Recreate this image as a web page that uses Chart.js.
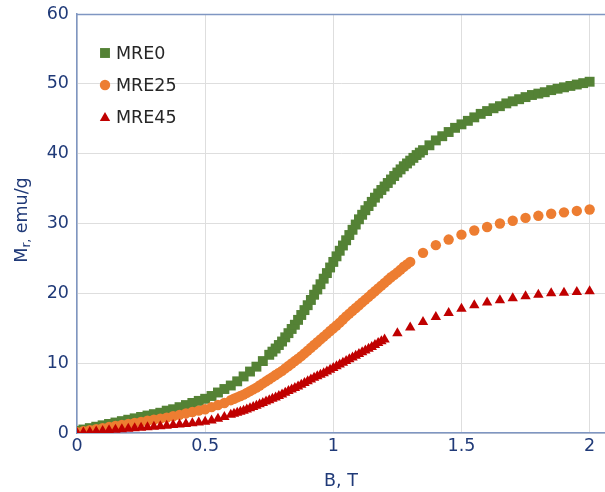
<!DOCTYPE html>
<html>
<head>
<meta charset="utf-8">
<script src="https://cdn.jsdelivr.net/npm/chart.js@4/dist/chart.umd.min.js"></script>
<style>
  html, body { margin: 0; padding: 0; background: #ffffff; overflow: hidden; }
  #wrap { width: 605px; height: 492px; position: relative; }
</style>
</head>
<body>
<div id="wrap"><canvas id="c" width="605" height="492"></canvas></div>
<script>
// ---- Data ----
const SERIES_NAMES = ['MRE0', 'MRE25', 'MRE45'];

const B_MRE0 = [0.000,0.025,0.050,0.075,0.100,0.125,0.150,0.175,0.200,0.225,0.250,0.275,0.300,0.325,0.350,0.375,0.400,0.425,0.450,0.475,
  0.500,0.525,0.550,0.575,0.600,0.625,0.650,0.675,0.700,0.725,
  0.750,0.7625,0.775,0.7875,0.800,0.8125,0.825,0.8375,0.850,0.8625,0.875,0.8875,0.900,0.9125,0.925,0.9375,0.950,0.9625,0.975,0.9875,
  1.000,1.0125,1.025,1.0375,1.050,1.0625,1.075,1.0875,1.100,1.1125,1.125,1.1375,1.150,1.1625,1.175,1.1875,1.200,1.2125,1.225,1.2375,
  1.250,1.2625,1.275,1.2875,1.300,1.3125,1.325,1.3375,1.350,
  1.375,1.400,1.425,1.450,1.475,1.500,1.525,1.550,1.575,1.600,1.625,1.650,1.675,1.700,1.725,1.750,1.775,1.800,1.825,1.850,1.875,1.900,1.925,1.950,1.975,2.000];
const M_MRE0 = [0.3,0.5,0.7,0.9,1.1,1.3,1.5,1.7,1.9,2.1,2.3,2.5,2.7,2.9,3.2,3.4,3.7,4.0,4.3,4.6,
  4.9,5.3,5.8,6.3,6.8,7.4,8.1,8.8,9.5,10.3,
  11.2,11.65,12.1,12.6,13.1,13.7,14.3,14.9,15.5,16.2,16.9,17.6,18.3,19.05,19.8,20.55,21.3,22.1,22.9,23.7,
  24.5,25.3,26.1,26.85,27.6,28.35,29.1,29.85,30.6,31.25,31.9,32.5,33.1,33.7,34.3,34.8,35.3,35.8,36.3,36.8,
  37.3,37.75,38.2,38.6,39.0,39.4,39.8,40.15,40.5,
  41.2,41.9,42.5,43.1,43.7,44.2,44.7,45.2,45.7,46.1,46.5,46.8,47.2,47.5,47.8,48.1,48.4,48.6,48.8,49.1,49.3,49.5,49.7,49.9,50.1,50.3];

const B_MRE25 = [0.000,0.025,0.050,0.075,0.100,0.125,0.150,0.175,0.200,0.225,0.250,0.275,0.300,0.325,0.350,0.375,0.400,0.425,0.450,0.475,
  0.500,0.525,0.550,0.575,
  0.600,0.6125,0.625,0.6375,0.650,0.6625,0.675,0.6875,0.700,0.7125,0.725,0.7375,0.750,0.7625,0.775,0.7875,
  0.800,0.8125,0.825,0.8375,0.850,0.8625,0.875,0.8875,0.900,0.9125,0.925,0.9375,0.950,0.9625,0.975,0.9875,
  1.000,1.0125,1.025,1.0375,1.050,1.0625,1.075,1.0875,1.100,1.1125,1.125,1.1375,1.150,1.1625,1.175,1.1875,
  1.200,1.2125,1.225,1.2375,1.250,1.2625,1.275,1.2875,1.300,
  1.35,1.40,1.45,1.50,1.55,1.60,1.65,1.70,1.75,1.80,1.85,1.90,1.95,2.00];
const M_MRE25 = [0.1,0.25,0.4,0.55,0.7,0.85,1.0,1.15,1.3,1.45,1.6,1.75,1.9,2.05,2.2,2.4,2.6,2.8,3.0,3.2,
  3.4,3.7,4.0,4.3,
  4.7,4.9,5.1,5.3,5.5,5.75,6.0,6.25,6.5,6.8,7.1,7.4,7.7,8.0,8.3,8.6,
  8.9,9.25,9.6,9.95,10.3,10.65,11.0,11.4,11.8,12.2,12.6,13.0,13.4,13.8,14.2,14.6,
  15.0,15.4,15.8,16.25,16.7,17.1,17.5,17.9,18.3,18.7,19.1,19.5,19.9,20.3,20.7,21.1,
  21.5,21.9,22.3,22.65,23.0,23.4,23.8,24.15,24.5,
  25.8,26.9,27.7,28.4,29.0,29.5,30.0,30.4,30.8,31.1,31.4,31.6,31.8,32.0];

const B_MRE45 = [0.000,0.025,0.050,0.075,0.100,0.125,0.150,0.175,0.200,0.225,0.250,0.275,0.300,0.325,0.350,0.375,0.400,0.425,0.450,0.475,
  0.500,0.525,0.550,0.575,
  0.600,0.6125,0.625,0.6375,0.650,0.6625,0.675,0.6875,0.700,0.7125,0.725,0.7375,0.750,0.7625,0.775,0.7875,
  0.800,0.8125,0.825,0.8375,0.850,0.8625,0.875,0.8875,0.900,0.9125,0.925,0.9375,0.950,0.9625,0.975,0.9875,
  1.000,1.0125,1.025,1.0375,1.050,1.0625,1.075,1.0875,1.100,1.1125,1.125,1.1375,1.150,1.1625,1.175,1.1875,1.200,
  1.25,1.30,1.35,1.40,1.45,1.50,1.55,1.60,1.65,1.70,1.75,1.80,1.85,1.90,1.95,2.00];
const M_MRE45 = [0.0,0.08,0.15,0.23,0.3,0.38,0.45,0.53,0.6,0.68,0.75,0.83,0.9,0.98,1.05,1.13,1.2,1.3,1.4,1.5,
  1.6,1.8,2.05,2.3,
  2.6,2.75,2.9,3.05,3.2,3.37,3.55,3.72,3.9,4.1,4.3,4.5,4.7,4.9,5.1,5.3,
  5.5,5.75,6.0,6.22,6.45,6.67,6.9,7.15,7.4,7.65,7.9,8.12,8.35,8.57,8.8,9.05,
  9.3,9.55,9.8,10.05,10.3,10.55,10.8,11.05,11.3,11.55,11.8,12.05,12.3,12.6,12.9,13.15,13.4,
  14.3,15.1,15.9,16.6,17.2,17.8,18.3,18.7,19.0,19.3,19.6,19.8,20.0,20.1,20.2,20.3];

const X_TICKS = [0, 0.5, 1, 1.5, 2];
const Y_TICKS = [0, 10, 20, 30, 40, 50, 60];
const X_TITLE = 'B, T';
const Y_TITLE_MAIN = 'M';
const Y_TITLE_SUB = 'r,';
const Y_TITLE_REST = ' emu/g';

// ---- Styling ----
const FONT = '"DejaVu Sans", Verdana, sans-serif';
const NAVY = '#203a78';
const AXIS = '#7f96c2';
const GRID = '#dedede';
const COLORS = ['#548235', '#ED7D31', '#C00000'];
const STYLES = ['rect', 'circle', 'triangle'];
const RADII = [7, 5.2, 6];

function pts(xs, ys) { return xs.map((x, i) => ({ x: x, y: ys[i] })); }

const seriesData = [pts(B_MRE0, M_MRE0), pts(B_MRE25, M_MRE25), pts(B_MRE45, M_MRE45)];

const datasets = SERIES_NAMES.map((name, i) => ({
  label: name,
  data: seriesData[i],
  showLine: false,
  pointStyle: STYLES[i],
  pointRadius: RADII[i],
  pointHoverRadius: RADII[i],
  pointBackgroundColor: COLORS[i],
  pointBorderColor: COLORS[i],
  pointBorderWidth: 0,
  backgroundColor: COLORS[i],
  borderColor: COLORS[i],
  order: 2 - i
}));

function drawMarker(ctx, style, x, y, r, color) {
  ctx.save();
  ctx.fillStyle = color;
  ctx.beginPath();
  if (style === 'rect') {
    const s = r * Math.SQRT1_2;
    ctx.rect(x - s, y - s, 2 * s, 2 * s);
  } else if (style === 'circle') {
    ctx.arc(x, y, r, 0, Math.PI * 2);
  } else {
    ctx.moveTo(x, y - r);
    ctx.lineTo(x + r * Math.sin(2 * Math.PI / 3), y - r * Math.cos(2 * Math.PI / 3));
    ctx.lineTo(x + r * Math.sin(4 * Math.PI / 3), y - r * Math.cos(4 * Math.PI / 3));
    ctx.closePath();
  }
  ctx.fill();
  ctx.restore();
}

const decorPlugin = {
  id: 'decor',
  afterDraw(chart) {
    const ctx = chart.ctx;
    const a = chart.chartArea;
    ctx.save();
    ctx.strokeStyle = AXIS;
    ctx.lineWidth = 1.5;
    ctx.beginPath();
    ctx.moveTo(a.left, a.top + 0.5);
    ctx.lineTo(a.right, a.top + 0.5);
    ctx.stroke();

    const lx = 105, ly = [53, 85, 117], tx = 116;
    ctx.font = '17.5px ' + FONT;
    ctx.textBaseline = 'middle';
    ctx.textAlign = 'left';
    SERIES_NAMES.forEach((name, i) => {
      drawMarker(ctx, STYLES[i], lx, ly[i] + (STYLES[i] === 'triangle' ? 1 : 0), RADII[i], COLORS[i]);
      ctx.fillStyle = '#262626';
      ctx.fillText(name, tx, ly[i] + 1);
    });

    ctx.fillStyle = NAVY;
    ctx.font = '17.5px ' + FONT;
    ctx.textAlign = 'center';
    ctx.textBaseline = 'middle';
    ctx.fillText(X_TITLE, 341, 481);

    ctx.translate(21, 220);
    ctx.rotate(-Math.PI / 2);
    const bigFont = '17.5px ' + FONT;
    const smallFont = '12px ' + FONT;
    ctx.font = bigFont;
    const w1 = ctx.measureText(Y_TITLE_MAIN).width;
    const w3 = ctx.measureText(Y_TITLE_REST).width;
    ctx.font = smallFont;
    const w2 = ctx.measureText(Y_TITLE_SUB).width;
    const total = w1 + w2 + w3;
    let x0 = -total / 2;
    ctx.textAlign = 'left';
    ctx.textBaseline = 'alphabetic';
    const base = 6;
    ctx.font = bigFont;
    ctx.fillText(Y_TITLE_MAIN, x0, base);
    ctx.font = smallFont;
    ctx.fillText(Y_TITLE_SUB, x0 + w1, base + 3);
    ctx.font = bigFont;
    ctx.fillText(Y_TITLE_REST, x0 + w1 + w2, base);
    ctx.restore();
  }
};

new Chart(document.getElementById('c'), {
  type: 'scatter',
  data: { datasets: datasets },
  options: {
    responsive: false,
    animation: false,
    devicePixelRatio: 1,
    layout: { autoPadding: false, padding: { top: 14, right: 0, left: 0, bottom: 0 } },
    plugins: { legend: { display: false }, tooltip: { enabled: false } },
    scales: {
      x: {
        type: 'linear',
        min: 0,
        max: 2.06,
        afterBuildTicks(scale) { scale.ticks = X_TICKS.map(v => ({ value: v })); },
        afterFit(scale) { scale.height = 59; scale.paddingLeft = 0; scale.paddingRight = 0; },
        ticks: {
          color: NAVY,
          font: { family: FONT, size: 17.5 },
          padding: 3,
          maxRotation: 0,
          autoSkip: false,
          callback: (v) => String(v)
        },
        grid: { color: GRID, lineWidth: 1, drawTicks: false },
        border: { display: true, color: AXIS, width: 1.5 }
      },
      y: {
        type: 'linear',
        min: 0,
        max: 60,
        afterBuildTicks(scale) { scale.ticks = Y_TICKS.map(v => ({ value: v })); },
        afterFit(scale) { scale.width = 77; scale.paddingTop = 0; scale.paddingBottom = 0; },
        ticks: {
          color: NAVY,
          font: { family: FONT, size: 17.5 },
          padding: 8,
          autoSkip: false,
          callback: (v) => String(v)
        },
        grid: { color: GRID, lineWidth: 1, drawTicks: false },
        border: { display: true, color: AXIS, width: 1.5 }
      }
    }
  },
  plugins: [decorPlugin]
});
</script>
</body>
</html>
